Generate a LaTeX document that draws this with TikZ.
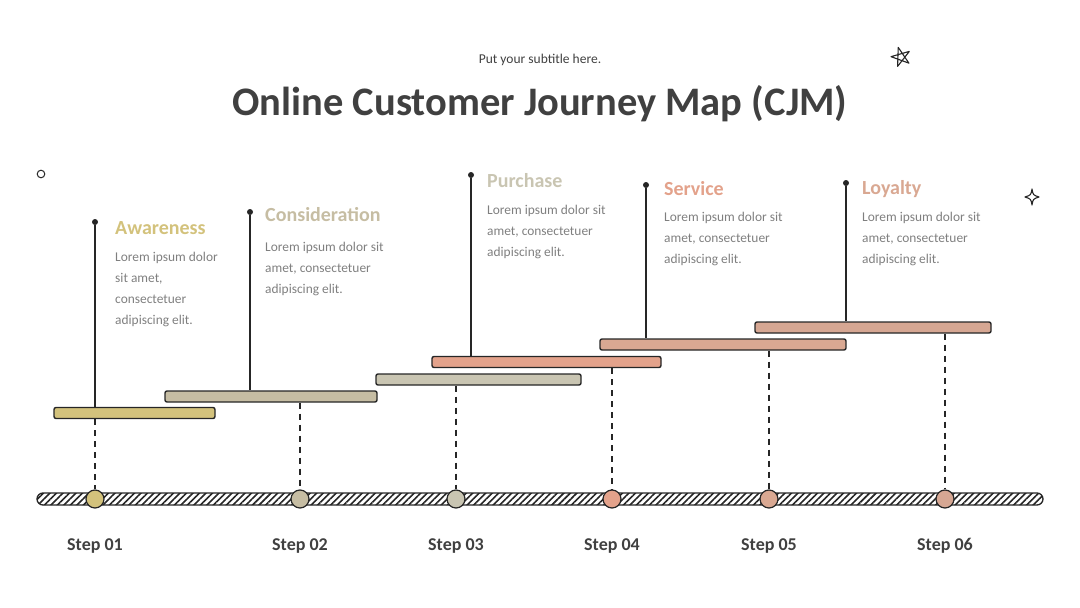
\documentclass[tikz,border=0pt]{standalone}
\usepackage{fontspec}
\setmainfont{Carlito}
\usepackage{tikz}
\usetikzlibrary{positioning,calc,patterns.meta}
\definecolor{inkdark}{HTML}{262626}
\definecolor{titlegray}{HTML}{404040}
\definecolor{bodygray}{HTML}{7F7F7F}
\definecolor{cGold}{HTML}{D3C27C}
\definecolor{cSand}{HTML}{C6BDA3}
\definecolor{cStone}{HTML}{C9C5B2}
\definecolor{cCoral}{HTML}{E3A28B}
\definecolor{cPeach}{HTML}{D9A892}
\definecolor{cRose}{HTML}{D6A793}
\tikzset{
  stagebar/.style={draw=inkdark, line width=1.4pt, rounded corners=2pt,
                   minimum height=11pt, inner sep=0pt},
  stepdot/.style={circle, draw=inkdark, line width=1.2pt, minimum size=18pt, inner sep=0pt},
  pindot/.style={circle, fill=inkdark, minimum size=6pt, inner sep=0pt},
  stem/.style={inkdark, line width=1.4pt},
  droplink/.style={inkdark, line width=1.3pt, dash pattern=on 6pt off 5pt},
  headtext/.style={font=\fontsize{20}{22}\selectfont\bfseries, anchor=west, inner sep=0pt},
  bodytext/.style={font=\fontsize{13.4}{21}\selectfont, text=bodygray, align=left,
                   anchor=north west, inner sep=0pt},
  steplabel/.style={font=\fontsize{18}{20}\selectfont\bfseries, text=titlegray}
}

\begin{document}
\begin{tikzpicture}[x=1pt, y=-1pt]
    \useasboundingbox (0,0) rectangle (1080,608);

    % Title
    \node[font=\fontsize{13.5}{15}\selectfont, text=titlegray] (subtitle) at (540,60) {Put your subtitle here.};
    \node[font=\fontsize{40.5}{44}\selectfont\bfseries, text=titlegray] (title) at (540,104)
      {Online Customer Journey Map (CJM)};

    % Decorations
    \draw[inkdark, line width=1pt] (41,174) circle (3.8);
    \coordinate (starc) at (901,57);
    \draw[inkdark, line width=1.1pt, line join=round]
      ($(starc)+(110:10)$) -- ($(starc)+(326:10)$) -- ($(starc)+(182:10)$)
      -- ($(starc)+(38:10)$) -- ($(starc)+(254:10)$) -- cycle;
    \draw[inkdark, line width=1.1pt, line join=round]
      (1032,189) .. controls (1033,195) .. (1039,197)
      .. controls (1033,199) .. (1032,205)
      .. controls (1031,199) .. (1025,197)
      .. controls (1031,195) .. (1032,189) -- cycle;

    % Timeline track
    \node[draw=inkdark, line width=1.3pt, rounded corners=6pt, inner sep=0pt,
          minimum width=1006pt, minimum height=12pt,
          pattern={Lines[angle=45, distance=4.6pt, line width=1.6pt]}, pattern color=inkdark]
          (track) at (540,499) {};

    % Step dots
    \node[stepdot, fill=cGold]  (s1) at (95,499)  {};
    \node[stepdot, fill=cSand]  (s2) at (300,499) {};
    \node[stepdot, fill=cStone] (s3) at (456,499) {};
    \node[stepdot, fill=cCoral] (s4) at (612,499) {};
    \node[stepdot, fill=cPeach] (s5) at (769,499) {};
    \node[stepdot, fill=cRose]  (s6) at (945,499) {};

    \node[steplabel] (l1) at (95,546)  {Step 01};
    \node[steplabel] (l2) at (300,546) {Step 02};
    \node[steplabel] (l3) at (456,546) {Step 03};
    \node[steplabel] (l4) at (612,546) {Step 04};
    \node[steplabel] (l5) at (769,546) {Step 05};
    \node[steplabel] (l6) at (945,546) {Step 06};

    % Stage bars
    \node[stagebar, fill=cGold,  minimum width=161pt] (b1) at (134.5,413) {};
    \node[stagebar, fill=cSand,  minimum width=212pt] (b2) at (271,396.5) {};
    \node[stagebar, fill=cStone, minimum width=205pt] (b3) at (478.5,379.5) {};
    \node[stagebar, fill=cCoral, minimum width=229pt] (b4) at (546.5,362) {};
    \node[stagebar, fill=cPeach, minimum width=246pt] (b5) at (723,344.5) {};
    \node[stagebar, fill=cRose,  minimum width=236pt] (b6) at (873,327.5) {};

    % Dashed drops
    \draw[droplink] (s1 |- b1.south) -- (s1.north);
    \draw[droplink] (s2 |- b2.south) -- (s2.north);
    \draw[droplink] (s3 |- b3.south) -- (s3.north);
    \draw[droplink] (s4 |- b4.south) -- (s4.north);
    \draw[droplink] (s5 |- b5.south) -- (s5.north);
    \draw[droplink] (s6 |- b6.south) -- (s6.north);

    % Pins
    \node[pindot] (p1) at (95,222)  {};
    \node[pindot] (p2) at (250,212) {};
    \node[pindot] (p3) at (471,175) {};
    \node[pindot] (p4) at (646,185) {};
    \node[pindot] (p5) at (846,183) {};
    \draw[stem] (p1) -- (p1 |- b1.north);
    \draw[stem] (p2) -- (p2 |- b2.north);
    \draw[stem] (p3) -- (p3 |- b4.north);
    \draw[stem] (p4) -- (p4 |- b5.north);
    \draw[stem] (p5) -- (p5 |- b6.north);

    % Stage texts
    \node[headtext, text=cGold]  (h1) at (115,228) {Awareness};
    \node[bodytext] (t1) at (115,252) {Lorem ipsum dolor\\sit amet,\\consectetuer\\adipiscing elit.};
    \node[headtext, text=cSand]  (h2) at (265,215) {Consideration};
    \node[bodytext] (t2) at (265,242) {Lorem ipsum dolor sit\\amet, consectetuer\\adipiscing elit.};
    \node[headtext, text=cStone] (h3) at (487,181) {Purchase};
    \node[bodytext] (t3) at (487,205) {Lorem ipsum dolor sit\\amet, consectetuer\\adipiscing elit.};
    \node[headtext, text=cCoral] (h4) at (664,189) {Service};
    \node[bodytext] (t4) at (664,212) {Lorem ipsum dolor sit\\amet, consectetuer\\adipiscing elit.};
    \node[headtext, text=cPeach] (h5) at (862,189) {Loyalty};
    \node[bodytext] (t5) at (862,212) {Lorem ipsum dolor sit\\amet, consectetuer\\adipiscing elit.};
\end{tikzpicture}
\end{document}
